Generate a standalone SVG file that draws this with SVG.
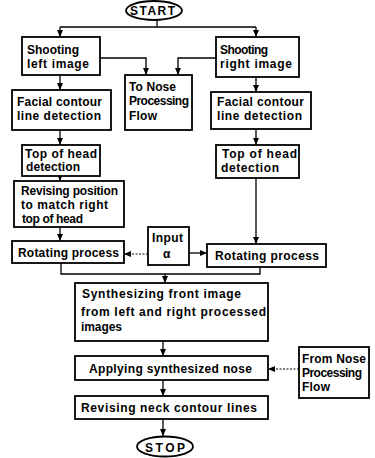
<svg xmlns="http://www.w3.org/2000/svg" width="375" height="458" viewBox="0 0 375 458">
<style>
.box{fill:#fff;stroke:#000;stroke-width:1.8}
.ln{fill:none;stroke:#000;stroke-width:1.3}
.dash{fill:none;stroke:#000;stroke-width:1.2;stroke-dasharray:2 1.5}
text{font-family:"Liberation Sans",Arial,sans-serif;font-weight:bold;font-size:12px;fill:#000}
</style>
<defs>
<marker id="ah" markerWidth="8" markerHeight="8" refX="7" refY="4" orient="auto" markerUnits="userSpaceOnUse">
<path d="M0,1 L7,4 L0,7 Z" fill="#000"/>
</marker>
</defs>
<rect width="375" height="458" fill="#fff"/>
<g id="connectors">
<path class="ln" d="M157,20 V27"/>
<path class="ln" d="M60,27 H256"/>
<path class="ln" d="M60,27 V37" marker-end="url(#ah)"/>
<path class="ln" d="M256,27 V37" marker-end="url(#ah)"/>
<path class="ln" d="M100,58 H146 V75" marker-end="url(#ah)"/>
<path class="ln" d="M216,58 H178 V75" marker-end="url(#ah)"/>
<path class="ln" d="M60,75 V90" marker-end="url(#ah)"/>
<path class="ln" d="M256,77 V92" marker-end="url(#ah)"/>
<path class="ln" d="M60,130 V145" marker-end="url(#ah)"/>
<path class="ln" d="M256,129 V145" marker-end="url(#ah)"/>
<path class="ln" d="M60,176 V181" marker-end="url(#ah)"/>
<path class="ln" d="M60,227 V241" marker-end="url(#ah)"/>
<path class="ln" d="M256,178 V244" marker-end="url(#ah)"/>
<path class="dash" d="M148,254 H124" marker-end="url(#ah)"/>
<path class="ln" d="M189,253 H207" marker-end="url(#ah)"/>
<path class="ln" d="M61,263 V274 H260 V267"/>
<path class="ln" d="M165,274 V283" marker-end="url(#ah)"/>
<path class="ln" d="M163,341 V356" marker-end="url(#ah)"/>
<path class="dash" d="M299,369 H268" marker-end="url(#ah)"/>
<path class="ln" d="M163,380 V396" marker-end="url(#ah)"/>
<path class="ln" d="M163,419 V436" marker-end="url(#ah)"/>
</g>
<g id="start">
<ellipse class="box" cx="154" cy="10.5" rx="28" ry="9.5"/>
<text x="130" y="15" textLength="45" lengthAdjust="spacing">START</text>
</g>
<g id="shoot-left">
<rect class="box" x="22" y="37" width="78" height="38"/>
<text x="27" y="54" textLength="52" lengthAdjust="spacing">Shooting</text>
<text x="27" y="68" textLength="62" lengthAdjust="spacing">left image</text>
</g>
<g id="shoot-right">
<rect class="box" x="216" y="37" width="83" height="40"/>
<text x="220" y="54" textLength="48" lengthAdjust="spacing">Shooting</text>
<text x="220" y="68" textLength="72" lengthAdjust="spacing">right image</text>
</g>
<g id="to-nose">
<rect class="box" x="125" y="75" width="67" height="55"/>
<text x="129" y="91" textLength="47" lengthAdjust="spacing">To Nose</text>
<text x="129" y="105" textLength="60" lengthAdjust="spacing">Processing</text>
<text x="129" y="120" textLength="28" lengthAdjust="spacing">Flow</text>
</g>
<g id="facial-left">
<rect class="box" x="12" y="90" width="99" height="40"/>
<text x="17" y="106" textLength="85" lengthAdjust="spacing">Facial contour</text>
<text x="17" y="120" textLength="84" lengthAdjust="spacing">line detection</text>
</g>
<g id="facial-right">
<rect class="box" x="211" y="92" width="100" height="37"/>
<text x="217" y="106" textLength="87" lengthAdjust="spacing">Facial contour</text>
<text x="217" y="120" textLength="85" lengthAdjust="spacing">line detection</text>
</g>
<g id="top-left">
<rect class="box" x="22" y="145" width="78" height="31"/>
<text x="25" y="158" textLength="72" lengthAdjust="spacing">Top of head</text>
<text x="26" y="171" textLength="54" lengthAdjust="spacing">detection</text>
</g>
<g id="top-right">
<rect class="box" x="216" y="145" width="83" height="33"/>
<text x="222" y="158" textLength="75" lengthAdjust="spacing">Top of head</text>
<text x="221" y="172" textLength="58" lengthAdjust="spacing">detection</text>
</g>
<g id="revising-pos">
<rect class="box" x="14" y="181" width="110" height="46"/>
<text x="21" y="195" textLength="97" lengthAdjust="spacing">Revising position</text>
<text x="21" y="209" textLength="87" lengthAdjust="spacing">to match right</text>
<text x="22" y="223" textLength="61" lengthAdjust="spacing">top of head</text>
</g>
<g id="rotate-left">
<rect class="box" x="12" y="241" width="112" height="22"/>
<text x="18" y="257" textLength="101" lengthAdjust="spacing">Rotating process</text>
</g>
<g id="input">
<rect class="box" x="148" y="227" width="41" height="38"/>
<text x="152" y="242" textLength="31" lengthAdjust="spacing">Input</text>
<text x="163" y="258" font-size="14">α</text>
</g>
<g id="rotate-right">
<rect class="box" x="207" y="244" width="119" height="23"/>
<text x="215" y="260" textLength="104" lengthAdjust="spacing">Rotating process</text>
</g>
<g id="synth">
<rect class="box" x="75" y="283" width="193" height="58"/>
<text x="82" y="298" textLength="159" lengthAdjust="spacing">Synthesizing front image</text>
<text x="81" y="316" textLength="185" lengthAdjust="spacing">from left and right processed</text>
<text x="81" y="331" textLength="41" lengthAdjust="spacing">images</text>
</g>
<g id="apply-nose">
<rect class="box" x="75" y="356" width="193" height="24"/>
<text x="89" y="373" textLength="163" lengthAdjust="spacing">Applying synthesized nose</text>
</g>
<g id="from-nose">
<rect class="box" x="299" y="347" width="70" height="51"/>
<text x="302" y="363" textLength="64" lengthAdjust="spacing">From Nose</text>
<text x="302" y="377" textLength="60" lengthAdjust="spacing">Processing</text>
<text x="302" y="391" textLength="28" lengthAdjust="spacing">Flow</text>
</g>
<g id="revise-neck">
<rect class="box" x="75" y="396" width="193" height="23"/>
<text x="81" y="412" textLength="176" lengthAdjust="spacing">Revising neck contour lines</text>
</g>
<g id="stop">
<ellipse class="box" cx="165" cy="446.5" rx="28" ry="10"/>
<text x="145" y="452" textLength="40" lengthAdjust="spacing">STOP</text>
</g>
</svg>
